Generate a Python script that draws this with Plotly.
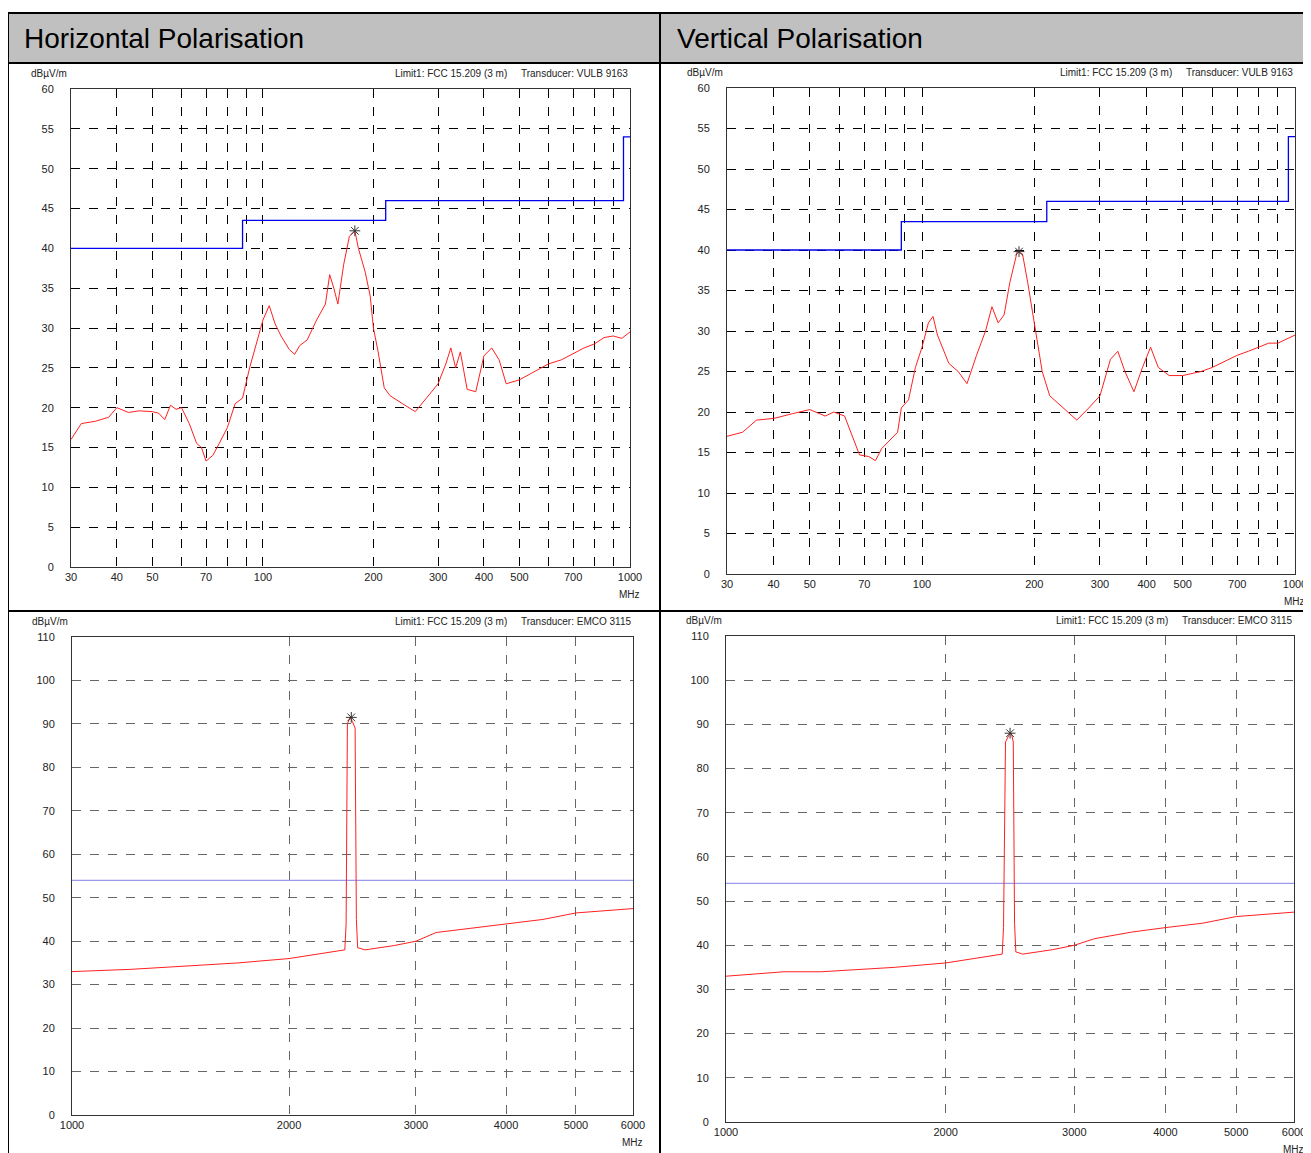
import plotly.graph_objects as go

h_low_f = [30, 32, 35, 38, 40, 43, 46, 50, 52, 54, 56, 58, 60, 63, 66, 68, 70, 73, 76, 80, 84, 88, 92, 96,
           100, 104, 108, 112, 118, 122, 126, 132, 140, 148, 152, 156, 160, 166, 172, 178, 182, 190, 196,
           200, 206, 214, 222, 240, 260, 280, 300, 315, 325, 335, 345, 360, 380, 400, 420, 440, 460, 500,
           550, 600, 650, 700, 750, 800, 850, 900, 950, 1000]
h_low_v = [16, 18, 18.3, 18.8, 20, 19.4, 19.6, 19.5, 19.3, 18.5, 20.3, 19.8, 20, 18, 15.5, 15, 13.3, 14,
           15.5, 17.5, 20.5, 21.2, 25, 28, 31, 32.8, 30.5, 29, 27.3, 26.7, 27.8, 28.5, 31, 33, 36.7, 35, 33,
           38, 41.5, 42.2, 40, 37, 34, 30, 27, 22.5, 21.5, 20.5, 19.5, 21.3, 23, 25.5, 27.5, 25, 27, 22.3,
           22, 26.5, 27.5, 26, 23, 23.5, 24.5, 25.5, 26, 26.8, 27.5, 28, 28.8, 29, 28.7, 29.5]
v_low_f = [30, 33, 36, 40, 45, 50, 55, 58, 62, 65, 68, 72, 75, 78, 82, 86, 88, 92, 96, 100, 104, 107, 110,
           118, 125, 132, 140, 148, 154, 160, 166, 172, 180, 186, 192, 200, 210, 220, 240, 260, 280, 300,
           320, 335, 350, 370, 390, 410, 430, 460, 500, 560, 600, 650, 700, 750, 800, 850, 900, 950, 1000]
v_low_v = [17, 17.5, 19, 19.2, 19.8, 20.3, 19.5, 20, 19.5, 17, 14.7, 14.5, 14, 15.5, 16.5, 17.5, 20.5,
           21.5, 25.5, 28, 31, 31.8, 29.5, 26, 25, 23.5, 27, 30, 33, 31, 32, 36, 39.8, 39.5, 36, 31, 25,
           22, 20.5, 19, 20.5, 22, 26.5, 27.5, 25, 22.5, 25.5, 28, 25.5, 24.5, 24.5, 25, 25.5, 26.3, 27,
           27.5, 28, 28.5, 28.5, 29, 29.5]
h_high_f = [1000, 1100, 1200, 1350, 1500, 1700, 2000, 2200, 2300, 2390, 2400, 2410, 2430, 2450, 2470,
            2480, 2490, 2550, 2800, 3000, 3200, 3600, 4000, 4500, 5000, 5500, 6000]
h_high_v = [33, 33.2, 33.5, 34, 34.5, 35, 36, 37, 37.5, 38, 44, 90, 91.5, 90.5, 89, 45, 38.5, 38, 39,
            40, 42, 43, 44, 45, 46.5, 47, 47.5]
v_high_f = [1000, 1100, 1200, 1350, 1500, 1700, 2000, 2200, 2300, 2390, 2400, 2415, 2440, 2460, 2475,
            2485, 2495, 2550, 2800, 3000, 3200, 3600, 4000, 4500, 5000, 5500, 6000]
v_high_v = [33, 33.5, 34, 34, 34.5, 35, 36, 37, 37.5, 38, 44, 86, 87.5, 88, 86, 45, 38.5, 38, 39, 40,
            41.5, 43, 44, 45, 46.5, 47, 47.5]
limit_low_f = [30, 88, 88, 216, 216, 960, 960, 1000]
limit_low_v = [40, 40, 43.5, 43.5, 46, 46, 54, 54]
limit_high_f = [1000, 6000]
limit_high_v = [54, 54]
peaks = {"h_low": (178, 42.2), "v_low": (182, 39.8), "h_high": (2440, 91.5), "v_high": (2450, 88)}

W, H = 1311, 1153
OFF = 8  # page body margin pushes the figure 8px right and down
FONT = "Liberation Sans, Arial"


def px(x):
    return max(0.0, (x - OFF) / W)


def py(y):
    return min(1.0, 1 - (y - OFF) / H)


fig = go.Figure()

panels = [
    # name, x, y axis ids, data, x px range, y px range, low band?
    ("h_low", "x", "y", h_low_f, h_low_v, (71, 630), (89, 567), True, "VULB 9163"),
    ("v_low", "x2", "y2", v_low_f, v_low_v, (727, 1295), (88, 574), True, "VULB 9163"),
    ("h_high", "x3", "y3", h_high_f, h_high_v, (72, 633), (637, 1115), False, "EMCO 3115"),
    ("v_high", "x4", "y4", v_high_f, v_high_v, (726, 1294), (636, 1122), False, "EMCO 3115"),
]

for i, (name, xa, ya, f, v, xr, yr, low, trans) in enumerate(panels):
    lf, lv = (limit_low_f, limit_low_v) if low else (limit_high_f, limit_high_v)
    lcol = "#0000ee" if low else "#9999ee"
    fig.add_trace(go.Scatter(x=lf, y=lv, mode="lines", line=dict(color=lcol, width=1.3),
                             xaxis=xa, yaxis=ya, showlegend=False))
    fig.add_trace(go.Scatter(x=f, y=v, mode="lines", line=dict(color="#ff2020", width=1),
                             xaxis=xa, yaxis=ya, showlegend=False))
    pf, pv = peaks[name]
    fig.add_trace(go.Scatter(x=[pf], y=[pv], mode="markers",
                             marker=dict(symbol="asterisk-open", size=9, color="#333",
                                         line=dict(color="#333", width=1)),
                             xaxis=xa, yaxis=ya, showlegend=False))
    sfx = "" if i == 0 else str(i + 1)
    if low:
        xt = [30, 40, 50, 60, 70, 80, 90, 100, 200, 300, 400, 500, 600, 700, 800, 900, 1000]
        xl = ["30", "40", "50", "", "70", "", "", "100", "200", "300", "400", "500", "", "700", "", "", "1000"]
        xrange_ = [1.47712, 3]
        yt = list(range(0, 61, 5))
        yrange = [0, 60]
        gcol = "#000"
    else:
        xt = [1000, 2000, 3000, 4000, 5000, 6000]
        xl = ["1000", "2000", "3000", "4000", "5000", "6000"]
        xrange_ = [3, 3.77815]
        yt = list(range(0, 111, 10))
        yrange = [0, 110]
        gcol = "#666"
    fig.layout["xaxis" + sfx] = dict(domain=[px(xr[0]), px(xr[1])], anchor=ya, type="log",
                                     range=xrange_, tickvals=xt, ticktext=xl, showgrid=True,
                                     gridcolor=gcol, griddash="dash", gridwidth=1, showline=True,
                                     linecolor="#333", mirror=True, ticks="", zeroline=False,
                                     automargin=False,
                                     tickfont=dict(size=11, family=FONT, color="#222"))
    fig.layout["yaxis" + sfx] = dict(domain=[py(yr[1]), py(yr[0])], anchor=xa, range=yrange,
                                     tickvals=yt, showgrid=True, gridcolor=gcol, griddash="dash",
                                     gridwidth=1, showline=True, linecolor="#333", mirror=True,
                                     ticks="", zeroline=False, ticklabelstandoff=14, automargin=False,
                                     tickfont=dict(size=11, family=FONT, color="#222"))
    fig.add_annotation(x=px(xr[0] - 42), y=py(yr[0] - 8), xref="paper", yref="paper", text="dBµV/m",
                       showarrow=False, xanchor="left", yanchor="bottom",
                       font=dict(size=10, family=FONT, color="#222"))
    fig.add_annotation(x=px(xr[1]), y=py(yr[0] - 8), xref="paper", yref="paper",
                       text="Limit1: FCC 15.209 (3 m)     Transducer: " + trans, showarrow=False,
                       xanchor="right", yanchor="bottom", font=dict(size=10, family=FONT, color="#222"))
    fig.add_annotation(x=px(xr[1] + 12), y=py(yr[1] + 20), xref="paper", yref="paper", text="MHz",
                       showarrow=False, xanchor="right", yanchor="top",
                       font=dict(size=10, family=FONT, color="#222"))

# report table frame and header cells
shapes = [
    dict(type="rect", x0=px(7), x1=1, y0=py(63), y1=py(13), fillcolor="#c0c0c0",
         line=dict(color="#000", width=2), layer="below"),
    dict(type="line", x0=px(8), x1=px(8), y0=py(13), y1=0, line=dict(color="#000", width=2)),
    dict(type="line", x0=px(660), x1=px(660), y0=py(13), y1=0, line=dict(color="#000", width=2)),
    dict(type="line", x0=px(7), x1=1, y0=py(611), y1=py(611), line=dict(color="#000", width=2)),
]
for s in shapes:
    s.update(xref="paper", yref="paper")
    fig.add_shape(**s)
fig.add_annotation(x=px(22), y=py(39), xref="paper", yref="paper", text="Horizontal Polarisation",
                   showarrow=False, xanchor="left", yanchor="middle",
                   font=dict(size=28, family=FONT, color="#000"))
fig.add_annotation(x=px(675), y=py(39), xref="paper", yref="paper", text="Vertical Polarisation",
                   showarrow=False, xanchor="left", yanchor="middle",
                   font=dict(size=28, family=FONT, color="#000"))

fig.update_layout(width=W, height=H, margin=dict(l=0, r=0, t=0, b=0, autoexpand=False),
                  plot_bgcolor="white", paper_bgcolor="white", showlegend=False)
fig.write_html("out.html")
